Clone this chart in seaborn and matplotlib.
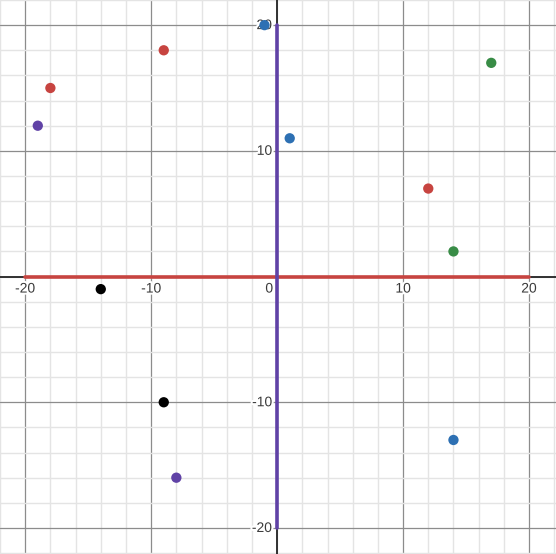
import matplotlib
matplotlib.use("Agg")
import matplotlib.pyplot as plt
import matplotlib.patheffects as pe
from matplotlib.transforms import offset_copy
import seaborn as sns
import pandas as pd
import numpy as np

# Data
point_x = [-18, -9, 12, -19, -8, -1, 1, 14, 17, 14, -14, -9]
point_y = [15, 18, 7, 12, -16, 20, 11, -13, 17, 2, -1, -10]
point_group = ["red", "red", "red", "purple", "purple", "blue", "blue", "blue",
               "green", "green", "black", "black"]
palette = {"red": "#c74440", "blue": "#2d70b3", "green": "#388c46",
           "purple": "#6042a6", "black": "#000000"}

hline_x = [-20, 20]
hline_y = [0, 0]
vline_x = [0, 0]
vline_y = [-20, 20]

major_ticks = [-20, -10, 10, 20]
minor_step = 2

sns.set_theme(style="white")
plt.rcParams['font.family'] = ['Liberation Sans', 'DejaVu Sans']

fig = plt.figure(figsize=(5.56, 5.54), dpi=100)
ax = fig.add_axes([0, 0, 1, 1])
ax.set_xlim(-21.98, 22.14)
ax.set_ylim(-22.07, 21.99)

# grid
ax.set_xticks(major_ticks)
ax.set_yticks(major_ticks)
ax.set_xticks(np.arange(-22, 23, minor_step), minor=True)
ax.set_yticks(np.arange(-22, 23, minor_step), minor=True)
ax.grid(which="minor", color="#e4e4e4", linewidth=1.0, zorder=0)
ax.grid(which="major", color="#8c8c8c", linewidth=0.9, zorder=0.5)
ax.set_axisbelow(True)
ax.tick_params(which="both", length=0, labelbottom=False, labelleft=False)
for s in ax.spines.values():
    s.set_visible(False)

# axes lines
ax.axhline(0, color="#222222", linewidth=1.3, zorder=1)
ax.axvline(0, color="#222222", linewidth=1.3, zorder=1)

# segments
sns.lineplot(x=hline_x, y=hline_y, ax=ax, color="#c74440", linewidth=2.6,
             estimator=None, sort=False, zorder=2)
sns.lineplot(x=vline_x, y=vline_y, ax=ax, color="#6042a6", linewidth=2.6,
             estimator=None, sort=False, zorder=2)

# tick labels with halo
halo = [pe.withStroke(linewidth=3, foreground="white")]
fs = 10
tcol = "#3a3a3a"
tx = offset_copy(ax.transData, fig=fig, x=0, y=-5, units="dots")
for v in major_ticks:
    ax.text(v, 0, f"{v}", transform=tx, ha="center", va="top", fontsize=fs,
            color=tcol, path_effects=halo, zorder=3)
ty = offset_copy(ax.transData, fig=fig, x=-5, y=0, units="dots")
for v in major_ticks:
    ax.text(0, v, f"{v}", transform=ty, ha="right", va="center", fontsize=fs,
            color=tcol, path_effects=halo, zorder=3)
t0 = offset_copy(ax.transData, fig=fig, x=-4, y=-5, units="dots")
ax.text(0, 0, "0", transform=t0, ha="right", va="top", fontsize=fs,
        color=tcol, path_effects=halo, zorder=3)

# points
df = pd.DataFrame({"x": point_x, "y": point_y, "g": point_group})
sns.scatterplot(data=df, x="x", y="y", hue="g", palette=palette, s=55,
                edgecolor="none", legend=False, ax=ax, zorder=4)
ax.set_xlabel("")
ax.set_ylabel("")

fig.savefig("out.png", dpi=100)
